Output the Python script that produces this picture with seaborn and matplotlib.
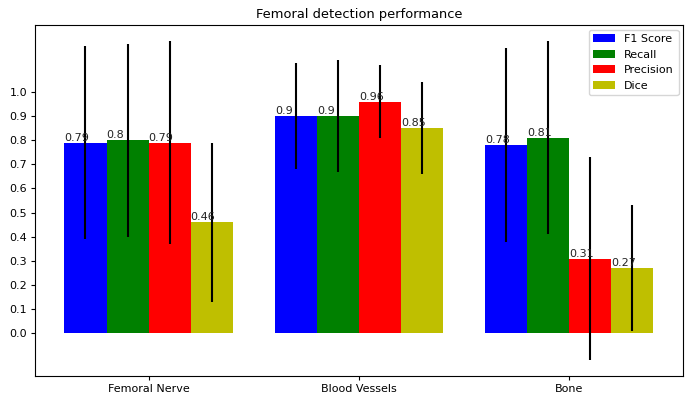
import pandas as pd
import numpy as np
import matplotlib
matplotlib.use("Agg")
import matplotlib.pyplot as plt
import seaborn as sns

# Values
groups = ['Femoral Nerve', 'Blood Vessels', 'Bone']
metrics = ['F1 Score', 'Recall', 'Precision', 'Dice']
f1 = [0.79, 0.9, 0.78]
recall = [0.8, 0.9, 0.81]
precision = [0.79, 0.96, 0.31]
dice = [0.46, 0.85, 0.27]
f1_err = [0.40, 0.22, 0.40]
recall_err = [0.40, 0.23, 0.40]
precision_err = [0.42, 0.15, 0.42]
dice_err = [0.33, 0.19, 0.26]

colors = ['b', 'g', 'r', 'y']

rows = []
for m, vals, errs in zip(metrics, [f1, recall, precision, dice],
                         [f1_err, recall_err, precision_err, dice_err]):
    for g, v, e in zip(groups, vals, errs):
        rows.append({'group': g, 'metric': m, 'value': v, 'err': e})
df = pd.DataFrame(rows)

# the reference looks like a default-style figure shrunk to ~0.8
plt.rcParams.update({
    'font.size': 8,
    'xtick.major.size': 2.8, 'ytick.major.size': 2.8,
    'xtick.major.pad': 2.8, 'ytick.major.pad': 2.8,
    'axes.titlepad': 4.8,
    'axes.linewidth': 0.8,
})

fig = plt.figure(figsize=(6.93, 3.93), dpi=100)
ax = fig.add_axes([0.0505, 0.0433, 0.935, 0.8927])

sns.barplot(data=df, x='group', y='value', hue='metric', order=groups,
            hue_order=metrics, palette=colors, saturation=1, errorbar=None,
            width=0.8, gap=0, linewidth=0, ax=ax)

# error bars and value labels, placed from the drawn bars
for container, m in zip(ax.containers, metrics):
    sub = df[df['metric'] == m].set_index('group').loc[groups]
    for patch, (_, r) in zip(container.patches, sub.iterrows()):
        cx = patch.get_x() + patch.get_width() / 2
        ax.errorbar(cx, r['value'], yerr=r['err'], fmt='none', ecolor='black',
                    elinewidth=1.5, capsize=0)
        ax.text(patch.get_x(), r['value'], f"{r['value']:g}", ha='left',
                va='bottom', fontsize=8, color='#222222')

ax.set_xlim(-0.54, 2.54)
ax.set_ylim(-0.176, 1.276)
ticks = np.arange(0, 1.01, 0.1)
ax.set_yticks(ticks)
ax.set_yticklabels([f'{t:.1f}' for t in ticks])
ax.set_xlabel('')
ax.set_ylabel('')
ax.set_title('Femoral detection performance', fontsize=9.4)
ax.legend(loc='upper right', fontsize=8, title=None, borderaxespad=0.4)

fig.savefig('out.png', dpi=100)
